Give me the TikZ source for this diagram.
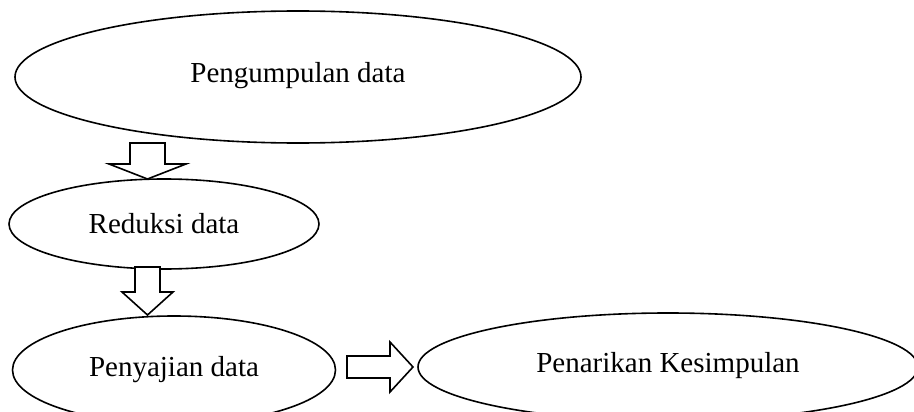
\documentclass[tikz,border=0pt]{standalone}
\usepackage{fontspec}
\setmainfont{Liberation Serif}
\usetikzlibrary{shapes.geometric}

\begin{document}
\begin{tikzpicture}[x=1pt, y=-1pt,
    stage/.style={ellipse, draw, line width=1.6pt, inner sep=0pt,
      font=\fontsize{29}{34}\selectfont},
    flow/.style={draw, line width=1.6pt, fill=white}]
      \useasboundingbox (0,0) rectangle (914,412);

      % Draw the stages
      \node[stage, minimum width=566pt, minimum height=132pt] (kumpul) at (298,77) {\raisebox{9pt}{Pengumpulan data}};
      \node[stage, minimum width=310pt, minimum height=90pt] (reduksi) at (164,224) {Reduksi data};
      \node[stage, minimum width=323pt, minimum height=108pt] (sajian) at (174,370) {Penyajian data};
      \node[stage, minimum width=500pt, minimum height=108pt] (simpulan) at (668,367) {\raisebox{9pt}{Penarikan Kesimpulan}};

      % Draw the block arrows
      \draw[flow] (130,143) -- (165,143) -- (165,164) -- (186,164) -- (147.5,179)
        -- (109,164) -- (130,164) -- cycle;
      \draw[flow] (135,267) -- (160,267) -- (160,292) -- (173,292) -- (147.5,315)
        -- (122,292) -- (135,292) -- cycle;
      \draw[flow] (347,356) -- (390,356) -- (390,342) -- (413,367) -- (390,392)
        -- (390,378) -- (347,378) -- cycle;
    \end{tikzpicture}
\end{document}
